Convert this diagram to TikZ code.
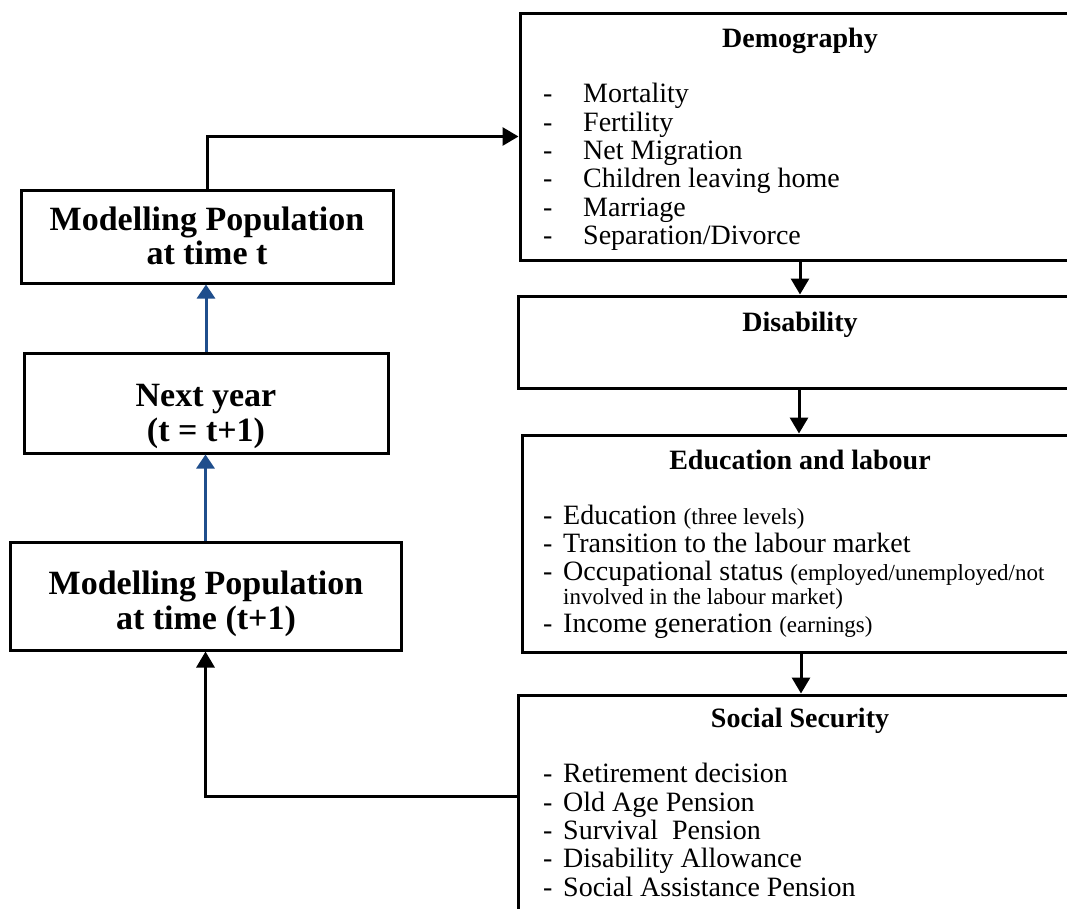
\documentclass[tikz,border=0pt]{standalone}
\usepackage{fontspec}
\setmainfont{Liberation Serif}
\usetikzlibrary{arrows.meta}
\definecolor{arrblue}{RGB}{31,78,140}
\begin{document}
\begin{tikzpicture}[x=1pt,y=-1pt,
  box/.style={draw=black,line width=3pt,rectangle,inner sep=0pt},
  arr/.style={draw=black,line width=3pt,-{Triangle[width=18pt,length=16pt]}},
  barr/.style={draw=arrblue,line width=3pt,-{Triangle[width=18pt,length=14pt]}},
  ttl/.style={font=\fontsize{28}{32}\selectfont\bfseries,anchor=base,inner sep=0pt},
  itm/.style={font=\fontsize{28}{32}\selectfont,anchor=base west,inner sep=0pt},
  big/.style={font=\fontsize{34}{36}\selectfont\bfseries,anchor=base,inner sep=0pt}]
\clip (0,0) rectangle (1067,908);
\fill[white] (0,0) rectangle (1067,908);

% right column boxes
\node[box,minimum width=560pt,minimum height=247pt] (demo) at (800,136.5) {};
\node[box,minimum width=562pt,minimum height=92pt] (dis) at (799,342) {};
\node[box,minimum width=558pt,minimum height=217pt] (edu) at (801,543.5) {};
\node[box,minimum width=562pt,minimum height=240pt] (ss) at (799,815) {};

% left column boxes
\node[box,minimum width=372pt,minimum height=93pt] (popt) at (207,236.5) {};
\node[box,minimum width=364pt,minimum height=100pt] (next) at (206,403) {};
\node[box,minimum width=391pt,minimum height=108pt] (popt1) at (205.5,596) {};

% left texts
\node[big] (popt-a) at (207,230) {Modelling Population};
\node[big] (popt-b) at (207,264) {at time t};
\node[big] (next-a) at (206,406) {Next year};
\node[big] (next-b) at (206,441) {(t = t+1)};
\node[big] (popt1-a) at (206,594) {Modelling Population};
\node[big] (popt1-b) at (206,629) {at time (t+1)};

% Demography
\node[ttl] (demo-t) at (800,47) {Demography};
\node[itm] (demo-1) at (543,102) {\makebox[40pt][l]{-}Mortality};
\node[itm] (demo-2) at (543,131) {\makebox[40pt][l]{-}Fertility};
\node[itm] (demo-3) at (543,159) {\makebox[40pt][l]{-}Net Migration};
\node[itm] (demo-4) at (543,187) {\makebox[40pt][l]{-}Children leaving home};
\node[itm] (demo-5) at (543,216) {\makebox[40pt][l]{-}Marriage};
\node[itm] (demo-6) at (543,244) {\makebox[40pt][l]{-}Separation/Divorce};

% Disability
\node[ttl] (dis-t) at (800,331) {Disability};

% Education and labour
\node[ttl] (edu-t) at (800,469) {Education and labour};
\node[itm] (edu-1) at (543,524) {\makebox[20pt][l]{-}Education {\fontsize{23}{26}\selectfont (three levels)}};
\node[itm] (edu-2) at (543,552) {\makebox[20pt][l]{-}Transition to the labour market};
\node[itm] (edu-3) at (543,580) {\makebox[20pt][l]{-}Occupational status {\fontsize{23}{26}\selectfont (employed/unemployed/not}};
\node[itm,font=\fontsize{23}{26}\selectfont] (edu-3b) at (563,604) {involved in the labour market)};
\node[itm] (edu-4) at (543,632) {\makebox[20pt][l]{-}Income generation {\fontsize{23}{26}\selectfont (earnings)}};

% Social Security
\node[ttl] (ss-t) at (800,727) {Social Security};
\node[itm] (ss-1) at (543,782) {\makebox[20pt][l]{-}Retirement decision};
\node[itm] (ss-2) at (543,811) {\makebox[20pt][l]{-}Old Age Pension};
\node[itm] (ss-3) at (543,839) {\makebox[20pt][l]{-}Survival\ \ Pension};
\node[itm] (ss-4) at (543,867) {\makebox[20pt][l]{-}Disability Allowance};
\node[itm] (ss-5) at (543,896) {\makebox[20pt][l]{-}Social Assistance Pension};

% connectors
\draw[arr] (popt.north) |- (demo.west);
\draw[arr] (demo.south) -- (demo.south |- dis.north);
\draw[arr] (dis.south) -- (dis.south |- edu.north);
\draw[arr] (edu.south) -- (edu.south |- ss.north);
\coordinate (fbrow) at (0,796);
\draw[arr] (ss.west |- fbrow) -| (popt1.south);
\draw[barr] (popt1.north) -- (popt1.north |- next.south);
\draw[barr] (next.north) -- (next.north |- popt.south);
\end{tikzpicture}
\end{document}
